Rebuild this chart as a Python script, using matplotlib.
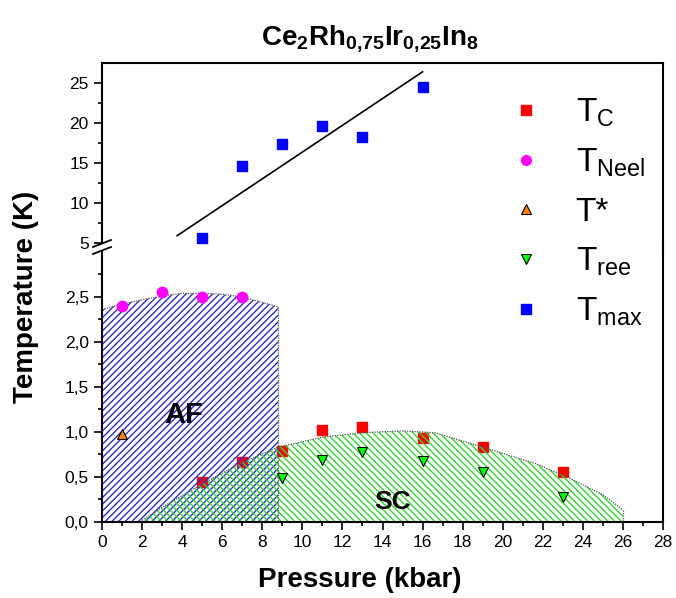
import numpy as np
import matplotlib
matplotlib.use("Agg")
import matplotlib.pyplot as plt
from matplotlib.lines import Line2D

plt.rcParams['font.family'] = ['Liberation Sans', 'DejaVu Sans']
plt.rcParams['mathtext.fontset'] = 'custom'
plt.rcParams['mathtext.rm'] = 'Liberation Sans'
plt.rcParams['mathtext.bf'] = 'Liberation Sans:bold'
plt.rcParams['mathtext.default'] = 'regular'
plt.rcParams['hatch.linewidth'] = 1.0

# data (pressure in kbar, temperature in K)
p_tc = [5, 7, 9, 11, 13, 16, 19, 23]
t_tc = [0.44, 0.66, 0.79, 1.02, 1.05, 0.93, 0.83, 0.55]
p_neel = [1, 3, 5, 7]
t_neel = [2.40, 2.55, 2.50, 2.50]
p_star = [1]
t_star = [0.97]
p_ree = [9, 11, 13, 16, 19, 23]
t_ree = [0.49, 0.69, 0.78, 0.67, 0.55, 0.27]
p_max = [5, 7, 9, 11, 13, 16]
t_max = [5.6, 14.6, 17.4, 19.6, 18.3, 24.5]
fit_p = [3.75, 16.0]
fit_t = [5.95, 26.4]

# phase boundaries
af_p = [0, 1, 2, 3, 4, 5, 6, 7, 8, 8.8]
af_t = [2.36, 2.42, 2.47, 2.51, 2.54, 2.54, 2.53, 2.50, 2.44, 2.39]
sc_p = [1.9, 3, 5, 7, 8.8, 10, 11, 13, 15, 16.6, 19, 21.6, 23.2, 25, 26]
sc_t = [0, 0.16, 0.42, 0.66, 0.83, 0.89, 0.94, 0.99, 1.01, 0.99, 0.83, 0.65, 0.50, 0.30, 0.13]

x_ticks = list(range(0, 29, 2))
low_ticks = [0, 0.5, 1.0, 1.5, 2.0, 2.5]
low_labels = ['0,0', '0,5', '1,0', '1,5', '2,0', '2,5']
top_ticks = [5, 10, 15, 20, 25]
top_labels = ['5', '10', '15', '20', '25']

W, H = 676, 598
fig = plt.figure(figsize=(W / 100, H / 100), dpi=100)
L = 102 / W
R = 663 / W
ax_top = fig.add_axes([L, 1 - 243.3 / H, R - L, (243.3 - 63) / H])
ax_low = fig.add_axes([L, 1 - 521.7 / H, R - L, (521.7 - 252) / H])

for ax in (ax_top, ax_low):
    ax.set_xlim(0, 28)
    for s in ax.spines.values():
        s.set_linewidth(1.5)
    ax.tick_params(which='both', direction='out', top=False, right=False,
                   width=1.2, labelsize=12.5)
    ax.tick_params(which='major', length=6)
    ax.tick_params(which='minor', length=3)

# upper panel
ax_top.set_ylim(5, 27.5)
ax_top.spines['bottom'].set_visible(False)
ax_top.tick_params(axis='x', which='both', bottom=False, labelbottom=False)
ax_top.set_yticks(top_ticks)
ax_top.set_yticklabels(top_labels)
ax_top.set_yticks(np.arange(7.5, 27.5, 5), minor=True)
ax_top.plot(fit_p, fit_t, color='black', lw=1.2)
ax_top.plot(p_max, t_max, 's', color='#0000ff', ms=7, ls='none', clip_on=False, zorder=3)

# lower panel
ax_low.set_ylim(0, 3.0)
ax_low.spines['top'].set_visible(False)
ax_low.set_xticks(x_ticks)
ax_low.set_xticks(range(0, 29), minor=True)
ax_low.set_yticks(low_ticks)
ax_low.set_yticklabels(low_labels)
ax_low.set_yticks(np.arange(0.25, 3.0, 0.5), minor=True)

ax_low.fill_between(af_p, 0, af_t, facecolor='none', edgecolor='#2b2bd0',
                    hatch='/////', linewidth=0, zorder=1)
ax_low.fill_between(sc_p, 0, sc_t, facecolor='none', edgecolor='#33d633',
                    hatch='\\\\\\\\\\', linewidth=0, zorder=1)
dot = dict(color='#555555', lw=0.9, ls=(0, (1, 1)), zorder=1.5)
ax_low.plot(af_p, af_t, **dot)
ax_low.plot([af_p[-1], af_p[-1]], [af_t[-1], 0], **dot)
ax_low.plot(sc_p, sc_t, **dot)
ax_low.plot([sc_p[-1], sc_p[-1]], [sc_t[-1], 0], **dot)

ax_low.plot(p_tc, t_tc, 's', color='#ff0000', ms=7, ls='none', zorder=0.5)
ax_low.plot(p_neel, t_neel, 'o', color='#ff00ff', ms=7.5, ls='none', zorder=3)
ax_low.plot(p_star, t_star, '^', color='#ff8000', mec='black', mew=0.8, ms=7.5, ls='none', zorder=3)
ax_low.plot(p_ree, t_ree, 'v', color='#00ff00', mec='black', mew=0.8, ms=7.5, ls='none', zorder=3)

ax_low.text(4.1, 1.19, 'AF', fontsize=21, fontweight='bold', ha='center', va='center', zorder=4)
ax_low.text(14.5, 0.22, 'SC', fontsize=19, fontweight='bold', ha='center', va='center', zorder=4)

# axis break marks and the joined right border
for yb in (243.5, 250.5):
    fig.add_artist(Line2D([(L * W - 9) / W, (L * W + 9) / W],
                          [1 - (yb + 3.5) / H, 1 - (yb - 3.5) / H],
                          color='black', lw=1.3, transform=fig.transFigure))
fig.add_artist(Line2D([R, R], [1 - 252 / H, 1 - 243.3 / H], color='black', lw=1.5,
                      transform=fig.transFigure))

# labels
fig.text(370 / W, 1 - 38 / H, r'$\mathbf{Ce_2Rh_{0{,}75}Ir_{0{,}25}In_8}$',
         fontsize=20, ha='center', va='center')
fig.text(360 / W, 1 - 580 / H, 'Pressure (kbar)', fontsize=20, fontweight='bold',
         ha='center', va='center')
fig.text(26 / W, 1 - 297 / H, 'Temperature (K)', fontsize=20, fontweight='bold',
         rotation=90, ha='center', va='center')

# legend
handles = [
    Line2D([], [], marker='s', color='#ff0000', ms=6.5, ls='none'),
    Line2D([], [], marker='o', color='#ff00ff', ms=7, ls='none'),
    Line2D([], [], marker='^', color='#ff8000', mec='black', mew=0.8, ms=7, ls='none'),
    Line2D([], [], marker='v', color='#00ff00', mec='black', mew=0.8, ms=7, ls='none'),
    Line2D([], [], marker='s', color='#0000ff', ms=6.5, ls='none'),
]
labels = ['T$_{C}$', 'T$_{Neel}$', 'T*', 'T$_{ree}$', 'T$_{max}$']
fig.legend(handles, labels, loc='upper left', bbox_to_anchor=(509 / W, 1 - 97 / H),
           frameon=False, fontsize=24, handlelength=1.0, handletextpad=1.0,
           labelspacing=0.53, borderpad=0, borderaxespad=0, numpoints=1)

fig.savefig('out.png', dpi=100)
